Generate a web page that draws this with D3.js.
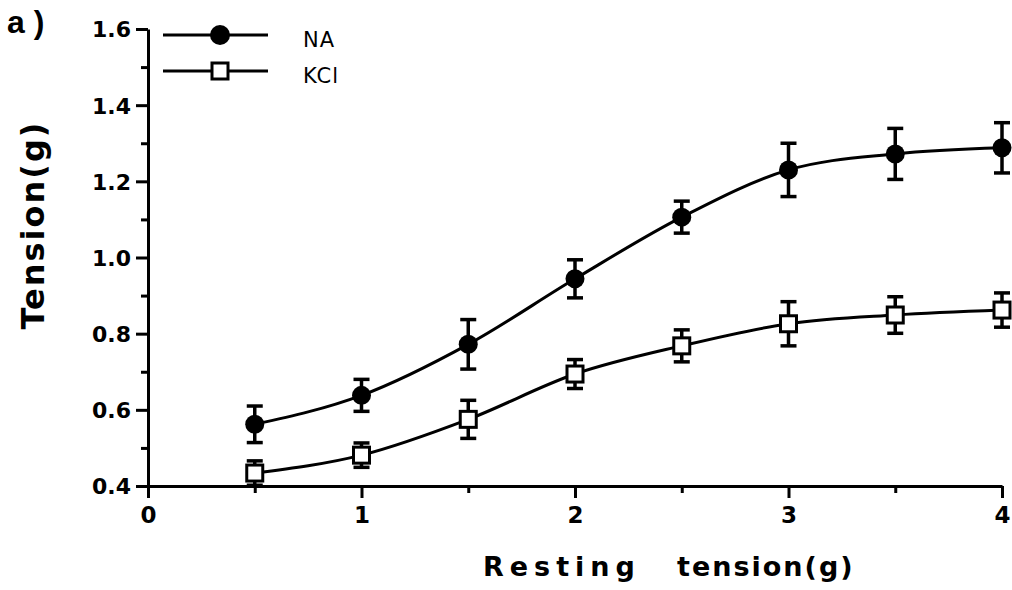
<!DOCTYPE html>
<html>
<head>
<meta charset="utf-8">
<script src="https://cdn.jsdelivr.net/npm/d3@7"></script>
<style>
  body { margin: 0; background: #fff; }
  svg { font-family: "DejaVu Sans", "Liberation Sans", Arial, sans-serif; }
</style>
</head>
<body>
<div id="chart"></div>
<script>
// data
var restingTension = [0.5, 1, 1.5, 2, 2.5, 3, 3.5, 4];
var naMean = [0.562, 0.638, 0.772, 0.944, 1.106, 1.230, 1.272, 1.288];
var naErr  = [0.048, 0.042, 0.065, 0.050, 0.042, 0.070, 0.067, 0.066];
var kclMean = [0.434, 0.481, 0.575, 0.694, 0.768, 0.826, 0.849, 0.862];
var kclErr  = [0.032, 0.032, 0.050, 0.038, 0.042, 0.058, 0.048, 0.045];
var xTicks = [0, 1, 2, 3, 4];
var yTicks = [0.4, 0.6, 0.8, 1.0, 1.2, 1.4, 1.6];

var width = 1012, height = 590;
var margin = {top: 29, right: 10, bottom: 104, left: 148};

var svg = d3.select("#chart").append("svg")
    .attr("width", width)
    .attr("height", height);

var x = d3.scaleLinear().domain([0, 4]).range([margin.left, 1002]);
var y = d3.scaleLinear().domain([0.4, 1.6]).range([486, margin.top]);

// minor ticks
svg.append("g")
    .attr("transform", "translate(0," + y(0.4) + ")")
    .call(d3.axisBottom(x).tickValues([0.5, 1.5, 2.5, 3.5]).tickSize(7).tickSizeOuter(0).tickFormat(""))
    .call(g => g.select(".domain").remove())
    .selectAll("line").attr("stroke-width", 3);

svg.append("g")
    .attr("transform", "translate(" + x(0) + ",0)")
    .call(d3.axisLeft(y).tickValues([0.5, 0.7, 0.9, 1.1, 1.3, 1.5]).tickSize(7).tickSizeOuter(0).tickFormat(""))
    .call(g => g.select(".domain").remove())
    .selectAll("line").attr("stroke-width", 3);

// major axes
var xAxis = svg.append("g")
    .attr("transform", "translate(0," + y(0.4) + ")")
    .call(d3.axisBottom(x).tickValues(xTicks).tickSize(12).tickSizeOuter(0).tickPadding(9).tickFormat(d3.format("d")));

var yAxis = svg.append("g")
    .attr("transform", "translate(" + x(0) + ",0)")
    .call(d3.axisLeft(y).tickValues(yTicks).tickSize(12).tickSizeOuter(0).tickPadding(5).tickFormat(d3.format(".1f")));

[xAxis, yAxis].forEach(function(a) {
    a.attr("font-family", null);
    a.select(".domain").attr("stroke-width", 3).attr("stroke", "#000");
    a.selectAll(".tick line").attr("stroke-width", 3);
    a.selectAll(".tick text")
        .attr("fill", "#000")
        .style("font-size", "22px")
        .style("font-weight", "bold");
});
xAxis.selectAll(".tick text").style("font-size", "23px");
yAxis.selectAll(".tick text").attr("dy", "0.36em");

// axis titles
svg.append("text")
    .attr("transform", "translate(44,225) rotate(-90)")
    .attr("text-anchor", "middle")
    .style("font-size", "32px")
    .style("font-weight", "bold")
    .style("letter-spacing", "2px")
    .text("Tension(g)");

var xt = svg.append("text")
    .attr("y", 576)
    .style("font-size", "27px")
    .style("font-weight", "bold");
xt.append("tspan").attr("x", 483).style("letter-spacing", "6px").text("Resting");
xt.append("tspan").attr("x", 677).style("letter-spacing", "2px").text("tension(g)");

svg.append("text")
    .attr("x", 7).attr("y", 33)
    .style("font-family", "'Liberation Sans', Arial, sans-serif")
    .style("font-size", "32px")
    .style("font-weight", "bold")
    .text("a )");

// series
var series = [
    {name: "NA", mean: naMean, err: naErr, shape: "circle"},
    {name: "KCl", mean: kclMean, err: kclErr, shape: "square"}
];

var line = d3.line()
    .x(d => x(d.x))
    .y(d => y(d.y))
    .curve(d3.curveMonotoneX);

series.forEach(function(s) {
    var pts = restingTension.map((t, i) => ({x: t, y: s.mean[i], e: s.err[i]}));
    var g = svg.append("g");

    g.append("path")
        .datum(pts)
        .attr("d", line)
        .attr("fill", "none")
        .attr("stroke", "#000")
        .attr("stroke-width", 3);

    var eb = g.selectAll(".eb").data(pts).join("g");
    eb.append("line")
        .attr("x1", d => x(d.x)).attr("x2", d => x(d.x))
        .attr("y1", d => y(d.y + d.e)).attr("y2", d => y(d.y - d.e))
        .attr("stroke", "#000").attr("stroke-width", 3.5);
    eb.append("line")
        .attr("x1", d => x(d.x) - 8).attr("x2", d => x(d.x) + 8)
        .attr("y1", d => y(d.y + d.e)).attr("y2", d => y(d.y + d.e))
        .attr("stroke", "#000").attr("stroke-width", 3.5);
    eb.append("line")
        .attr("x1", d => x(d.x) - 8).attr("x2", d => x(d.x) + 8)
        .attr("y1", d => y(d.y - d.e)).attr("y2", d => y(d.y - d.e))
        .attr("stroke", "#000").attr("stroke-width", 3.5);

    if (s.shape === "circle") {
        g.selectAll("circle").data(pts).join("circle")
            .attr("cx", d => x(d.x)).attr("cy", d => y(d.y))
            .attr("r", 9.5).attr("fill", "#000");
    } else {
        g.selectAll("rect").data(pts).join("rect")
            .attr("x", d => x(d.x) - 8).attr("y", d => y(d.y) - 8)
            .attr("width", 16).attr("height", 16)
            .attr("fill", "#fff").attr("stroke", "#000").attr("stroke-width", 3);
    }
});

// legend
var legend = svg.append("g");
series.forEach(function(s, i) {
    var ly = 35 + i * 36;
    legend.append("line")
        .attr("x1", 163).attr("x2", 268).attr("y1", ly).attr("y2", ly)
        .attr("stroke", "#000").attr("stroke-width", 3);
    if (s.shape === "circle") {
        legend.append("circle").attr("cx", 220).attr("cy", ly).attr("r", 10).attr("fill", "#000");
    } else {
        legend.append("rect").attr("x", 212).attr("y", ly - 8).attr("width", 16).attr("height", 16)
            .attr("fill", "#fff").attr("stroke", "#000").attr("stroke-width", 3);
    }
    legend.append("text")
        .attr("x", 303).attr("y", ly + 12)
        .style("font-size", "21px")
        .style("letter-spacing", "1px")
        .text(s.name);
});
</script>
</body>
</html>
